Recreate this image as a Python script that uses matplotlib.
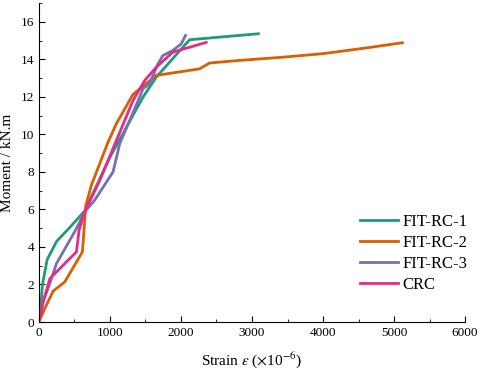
import numpy as np
import matplotlib.pyplot as plt
from matplotlib.ticker import MultipleLocator

plt.rcParams["font.family"] = ["Liberation Serif", "DejaVu Serif"]
plt.rcParams["mathtext.fontset"] = "stix"

# strain (x1e-6) and moment (kN.m)
x1 = [0, 30, 50, 117, 250, 450, 646, 1000, 1465, 1653, 2121, 3090]
y1 = [0, 1.0, 2.0, 3.33, 4.3, 5.1, 5.92, 8.78, 11.98, 13.05, 15.04, 15.36]

x2 = [0, 84, 201, 365, 613, 660, 740, 974, 1091, 1325, 1653, 2261, 2402, 2823, 3400, 4000, 4600, 5117]
y2 = [0, 0.73, 1.65, 2.14, 3.74, 6.2, 7.3, 9.59, 10.57, 12.13, 13.14, 13.49, 13.8, 13.94, 14.1, 14.3, 14.6, 14.88]

x3 = [0, 60, 155, 248, 529, 646, 787, 1044, 1138, 1418, 1465, 1559, 1676, 1746, 1886, 2004, 2065]
y3 = [0, 1.08, 2.07, 3.12, 4.98, 5.87, 6.5, 8.0, 9.5, 11.98, 12.43, 12.7, 13.76, 14.2, 14.47, 14.82, 15.27]

x4 = [0, 60, 155, 529, 566, 646, 857, 1325, 1489, 1653, 1886, 2355]
y4 = [0, 1.08, 2.32, 3.74, 4.9, 5.87, 7.55, 11.8, 12.87, 13.58, 14.38, 14.9]

labels = ["FIT-RC-1", "FIT-RC-2", "FIT-RC-3", "CRC"]
colors = ["#1b9e77", "#d95f02", "#7570b3", "#e7298a"]

fig = plt.figure(figsize=(4.8, 3.71), dpi=100)
ax = fig.add_axes([0.081, 0.132, 0.888, 0.860])

for xs, ys, lab, c in zip([x1, x2, x3, x4], [y1, y2, y3, y4], labels, colors):
    ax.plot(xs, ys, color=c, lw=2.0, label=lab)

ax.set_xlim(0, 6000)
ax.set_ylim(0, 17)
ax.set_yticks(np.arange(0, 17, 2))
ax.xaxis.set_major_locator(MultipleLocator(1000))
ax.xaxis.set_minor_locator(MultipleLocator(500))
ax.yaxis.set_minor_locator(MultipleLocator(1))
ax.tick_params(which="both", direction="in", labelsize=9.5)
ax.tick_params(which="major", length=4)
ax.tick_params(which="minor", length=2.5)
ax.spines["top"].set_visible(False)
ax.spines["right"].set_visible(False)

ax.set_xlabel(r"Strain $\varepsilon$ ($\times$10$^{-6}$)", fontsize=11, labelpad=8)
ax.set_ylabel("Moment / kN.m", fontsize=11, labelpad=5)

ax.legend(loc="lower right", bbox_to_anchor=(1.04, 0.045), frameon=False,
          fontsize=12, handlelength=2.3, handletextpad=0.25, labelspacing=0.3)

plt.savefig("out.png", dpi=100)
